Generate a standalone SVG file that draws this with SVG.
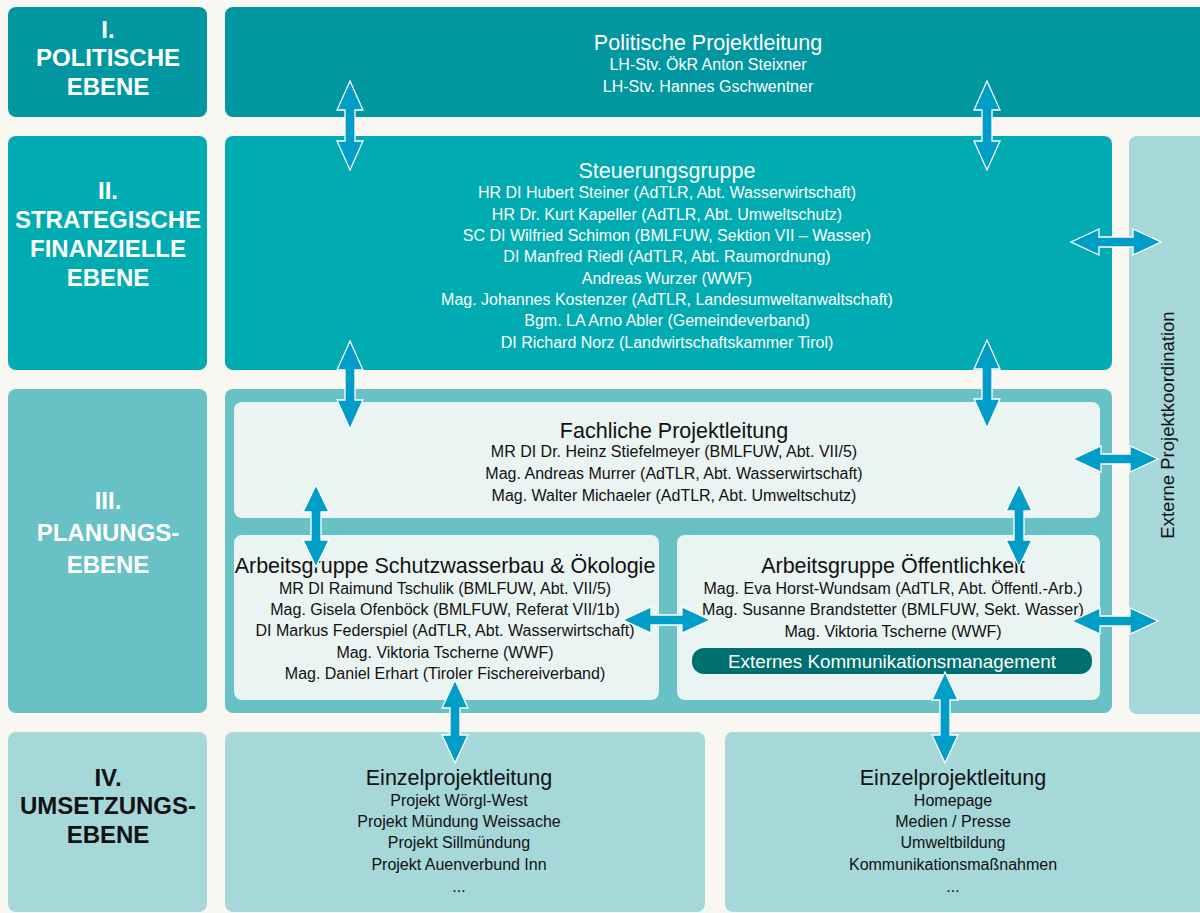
<svg xmlns="http://www.w3.org/2000/svg" width="1200" height="913" viewBox="0 0 1200 913">
  <style>
    .lvl { font-family: "Liberation Sans", Arial, sans-serif; font-weight: bold; font-size: 24px; text-anchor: middle; fill: #ffffff; }
    .lvl.dark { fill: #111111; }
    .ttl { font-family: "Liberation Sans", Arial, sans-serif; font-size: 21.5px; text-anchor: middle; fill: #111111; }
    .txt { font-family: "Liberation Sans", Arial, sans-serif; font-size: 16px; text-anchor: middle; fill: #111111; }
    .w { fill: #ffffff; }
    .c1 { fill: #0097a0; }
    .c2 { fill: #00abb2; }
    .c3 { fill: #68c1c5; }
    .c4 { fill: #a6d7d9; }
    .inner { fill: #eaf4f3; }
    .bar { fill: #006f70; }
    .arr { fill: #009dc6; stroke: #ffffff; stroke-width: 1.3; stroke-linejoin: miter; }
  </style>

  <rect x="0" y="0" width="1200" height="913" fill="#f8f7f2"/>

  <!-- level labels -->
  <g id="ebene-1">
    <rect class="c1" x="8" y="7" width="199" height="110" rx="8"/>
    <text class="lvl" x="108" y="37.5">I.</text>
    <text class="lvl" x="108" y="65.5">POLITISCHE</text>
    <text class="lvl" x="108" y="94.5">EBENE</text>
  </g>
  <g id="ebene-2">
    <rect class="c2" x="8" y="136" width="199" height="234" rx="8"/>
    <text class="lvl" x="108" y="198.5">II.</text>
    <text class="lvl" x="108" y="227.5">STRATEGISCHE</text>
    <text class="lvl" x="108" y="256.5">FINANZIELLE</text>
    <text class="lvl" x="108" y="285.5">EBENE</text>
  </g>
  <g id="ebene-3">
    <rect class="c3" x="8" y="389" width="199" height="324" rx="8"/>
    <text class="lvl" x="108" y="508.5">III.</text>
    <text class="lvl" x="108" y="540.5">PLANUNGS-</text>
    <text class="lvl" x="108" y="572.5">EBENE</text>
  </g>
  <g id="ebene-4">
    <rect class="c4" x="8" y="732" width="199" height="180" rx="8"/>
    <text class="lvl dark" x="108" y="785.5">IV.</text>
    <text class="lvl dark" x="108" y="813.5">UMSETZUNGS-</text>
    <text class="lvl dark" x="108" y="842.5">EBENE</text>
  </g>

  <!-- level I -->
  <g id="politische-projektleitung">
    <rect class="c1" x="225" y="7" width="985" height="110" rx="8"/>
    <text class="ttl w" x="708" y="49.5">Politische Projektleitung</text>
    <text class="txt w" x="708" y="69.5">LH-Stv. ÖkR Anton Steixner</text>
    <text class="txt w" x="708" y="91.5">LH-Stv. Hannes Gschwentner</text>
  </g>

  <!-- level II -->
  <g id="steuerungsgruppe">
    <rect class="c2" x="225" y="136" width="887" height="234" rx="8"/>
    <text class="ttl w" x="667" y="177.5">Steuerungsgruppe</text>
    <text class="txt w" x="667" y="197.5">HR DI Hubert Steiner (AdTLR, Abt. Wasserwirtschaft)</text>
    <text class="txt w" x="667" y="219.5">HR Dr. Kurt Kapeller (AdTLR, Abt. Umweltschutz)</text>
    <text class="txt w" x="667" y="240.5">SC DI Wilfried Schimon (BMLFUW, Sektion VII – Wasser)</text>
    <text class="txt w" x="667" y="261.5">DI Manfred Riedl (AdTLR, Abt. Raumordnung)</text>
    <text class="txt w" x="667" y="283.5">Andreas Wurzer (WWF)</text>
    <text class="txt w" x="667" y="304.5">Mag. Johannes Kostenzer (AdTLR, Landesumweltanwaltschaft)</text>
    <text class="txt w" x="667" y="325.5">Bgm. LA Arno Abler (Gemeindeverband)</text>
    <text class="txt w" x="667" y="347.5">DI Richard Norz (Landwirtschaftskammer Tirol)</text>
  </g>

  <!-- external coordination column -->
  <g id="externe-projektkoordination">
    <rect class="c4" x="1129" y="136" width="90" height="578" rx="8"/>
    <text class="txt" style="font-size:18.5px" transform="translate(1174 425) rotate(-90)">Externe Projektkoordination</text>
  </g>

  <!-- level III -->
  <g id="planungsebene">
    <rect class="c3" x="225" y="389" width="887" height="324" rx="8"/>
  </g>
  <g id="fachliche-projektleitung">
    <rect class="inner" x="234" y="402" width="866" height="116" rx="8"/>
    <text class="ttl" x="674" y="438">Fachliche Projektleitung</text>
    <text class="txt" x="674" y="456.5">MR DI Dr. Heinz Stiefelmeyer (BMLFUW, Abt. VII/5)</text>
    <text class="txt" x="674" y="478.5">Mag. Andreas Murrer (AdTLR, Abt. Wasserwirtschaft)</text>
    <text class="txt" x="674" y="500.5">Mag. Walter Michaeler (AdTLR, Abt. Umweltschutz)</text>
  </g>
  <g id="ag-schutzwasserbau">
    <rect class="inner" x="234" y="535" width="425" height="165" rx="8"/>
    <text class="ttl" x="445" y="572.5">Arbeitsgruppe Schutzwasserbau &amp; Ökologie</text>
    <text class="txt" x="445" y="593.5">MR DI Raimund Tschulik (BMLFUW, Abt. VII/5)</text>
    <text class="txt" x="445" y="614.5">Mag. Gisela Ofenböck (BMLFUW, Referat VII/1b)</text>
    <text class="txt" x="445" y="635.5">DI Markus Federspiel (AdTLR, Abt. Wasserwirtschaft)</text>
    <text class="txt" x="445" y="657.5">Mag. Viktoria Tscherne (WWF)</text>
    <text class="txt" x="445" y="678.5">Mag. Daniel Erhart (Tiroler Fischereiverband)</text>
  </g>
  <g id="ag-oeffentlichkeit">
    <rect class="inner" x="677" y="535" width="423" height="165" rx="8"/>
    <text class="ttl" x="893" y="572.5">Arbeitsgruppe Öffentlichkeit</text>
    <text class="txt" x="893" y="593.5">Mag. Eva Horst-Wundsam (AdTLR, Abt. Öffentl.-Arb.)</text>
    <text class="txt" x="893" y="614.5">Mag. Susanne Brandstetter (BMLFUW, Sekt. Wasser)</text>
    <text class="txt" x="893" y="636.5">Mag. Viktoria Tscherne (WWF)</text>
    <rect class="bar" x="692" y="648" width="400" height="26" rx="12"/>
    <text class="txt w" style="font-size:18.8px" x="892" y="667.5">Externes Kommunikationsmanagement</text>
  </g>

  <!-- level IV -->
  <g id="einzelprojektleitung-projekte">
    <rect class="c4" x="225" y="732" width="480" height="180" rx="8"/>
    <text class="ttl" x="459" y="784.5">Einzelprojektleitung</text>
    <text class="txt" x="459" y="805.5">Projekt Wörgl-West</text>
    <text class="txt" x="459" y="826.5">Projekt Mündung Weissache</text>
    <text class="txt" x="459" y="847.5">Projekt Sillmündung</text>
    <text class="txt" x="459" y="869.5">Projekt Auenverbund Inn</text>
    <text class="txt" x="459" y="891.5">...</text>
  </g>
  <g id="einzelprojektleitung-kommunikation">
    <rect class="c4" x="725" y="732" width="490" height="180" rx="8"/>
    <text class="ttl" x="953" y="784.5">Einzelprojektleitung</text>
    <text class="txt" x="953" y="805.5">Homepage</text>
    <text class="txt" x="953" y="826.5">Medien / Presse</text>
    <text class="txt" x="953" y="847.5">Umweltbildung</text>
    <text class="txt" x="953" y="869.5">Kommunikationsmaßnahmen</text>
    <text class="txt" x="953" y="891.5">...</text>
  </g>

  <!-- double-headed connectors -->
  <g id="connectors">
    <!-- vertical: tip, head base, shaft, head base, tip -->
    <path class="arr" d="M350,81 L363,110 L355,110 L355,141 L363,141 L350,170 L337,141 L345,141 L345,110 L337,110 Z"/>
    <path class="arr" d="M987,81 L1000,110 L992,110 L992,141 L1000,141 L987,170 L974,141 L982,141 L982,110 L974,110 Z"/>
    <path class="arr" d="M350,341 L363,370 L355,370 L355,400 L363,400 L350,429 L337,400 L345,400 L345,370 L337,370 Z"/>
    <path class="arr" d="M987,340 L1000,369 L992,369 L992,399 L1000,399 L987,428 L974,399 L982,399 L982,369 L974,369 Z"/>
    <path class="arr" d="M316,485 L329,512 L321,512 L321,540 L329,540 L316,567 L303,540 L311,540 L311,512 L303,512 Z"/>
    <path class="arr" d="M1019,484 L1032,511 L1024,511 L1024,540 L1032,540 L1019,567 L1006,540 L1014,540 L1014,511 L1006,511 Z"/>
    <path class="arr" d="M455,680 L468,708 L460,708 L460,735 L468,735 L455,763 L442,735 L450,735 L450,708 L442,708 Z"/>
    <path class="arr" d="M945,672 L958,700 L950,700 L950,735 L958,735 L945,763 L932,735 L940,735 L940,700 L932,700 Z"/>
    <!-- horizontal -->
    <path class="arr" d="M1071,242 L1099,229 L1099,237 L1133,237 L1133,229 L1161,242 L1133,255 L1133,247 L1099,247 L1099,255 Z"/>
    <path class="arr" d="M1073,459 L1101,446 L1101,454 L1130,454 L1130,446 L1158,459 L1130,472 L1130,464 L1101,464 L1101,472 Z"/>
    <path class="arr" d="M1072,621 L1100,608 L1100,616 L1130,616 L1130,608 L1158,621 L1130,634 L1130,626 L1100,626 L1100,634 Z"/>
    <path class="arr" d="M623,620 L651,607 L651,615 L682,615 L682,607 L710,620 L682,633 L682,625 L651,625 L651,633 Z"/>
  </g>
</svg>
